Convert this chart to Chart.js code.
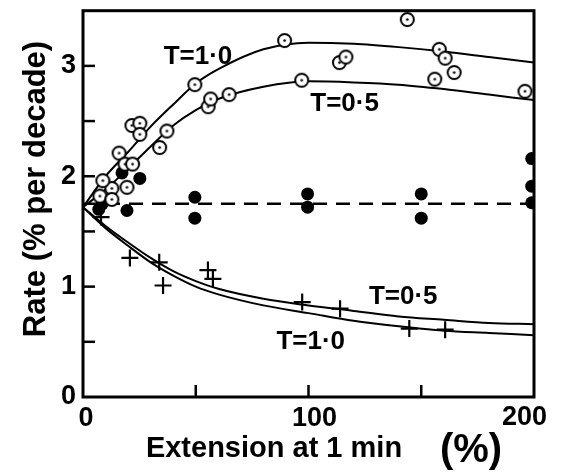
<!DOCTYPE html>
<html>
<head>
<meta charset="utf-8">
<script src="https://cdn.jsdelivr.net/npm/chart.js@4.4.1/dist/chart.umd.min.js"></script>
<style>
  body { margin: 0; background: #fff; }
</style>
</head>
<body>
<canvas id="myChart" width="563" height="476"></canvas>
<script>
// tick labels
const xTickLabels = [0, 100, 200];
const yTickLabels = [0, 1, 2, 3];
const xMinorTicks = [50, 100, 150];
const yMinorTicks = [0.5, 1, 1.5, 2, 2.5, 3];

// measured points (extension %, rate)
const openT1 = [
  [8.8, 1.96], [16, 2.21], [18.6, 2.11], [22, 2.11], [21.7, 2.46], [25.2, 2.48],
  [25.2, 2.38], [49.6, 2.83], [89.4, 3.23], [113.7, 3.03], [116.6, 3.08],
  [143.8, 3.42], [158, 3.15], [160.6, 3.07], [164.6, 2.94]
];
const openT05 = [
  [7.5, 1.82], [12.8, 1.89], [12.8, 1.79], [19.5, 1.9], [34, 2.26], [37.2, 2.41],
  [55.5, 2.63], [56.6, 2.7], [64.8, 2.74], [97, 2.87], [156, 2.88], [196, 2.77]
];
const filled = [
  [7, 1.7], [8.5, 1.75], [17.3, 2.03], [25.2, 1.98], [19.5, 1.69],
  [49.6, 1.81], [49.6, 1.62], [99.6, 1.84], [99.6, 1.72], [150, 1.84], [150, 1.62],
  [199, 2.16], [199, 1.91], [199, 1.76]
];
const crosses = [
  [8, 1.63], [20.8, 1.26], [33.8, 1.22], [35.5, 1.01], [55.4, 1.15], [57.6, 1.07],
  [97.2, 0.86], [114, 0.8], [144.7, 0.62], [160.6, 0.61]
];

// fitted curves
const curveX = [0, 10, 20, 30, 40, 50, 60, 80, 100, 120, 140, 160, 180, 200];
const riseT1 = [1.72, 2.0, 2.22, 2.45, 2.65, 2.84, 2.97, 3.15, 3.21, 3.2, 3.17, 3.13, 3.08, 3.03];
const riseT05 = [1.72, 1.88, 2.07, 2.27, 2.46, 2.6, 2.7, 2.81, 2.86, 2.85, 2.83, 2.79, 2.74, 2.69];
const fallT05 = [1.72, 1.55, 1.4, 1.26, 1.14, 1.05, 0.98, 0.89, 0.83, 0.78, 0.73, 0.7, 0.67, 0.66];
const fallT1 = [1.72, 1.53, 1.37, 1.22, 1.1, 1.0, 0.93, 0.83, 0.76, 0.69, 0.64, 0.6, 0.58, 0.56];
const meanLineX = [0, 200];
const meanLineY = [1.75, 1.75];

const curveLabels = [
  { text: "T=1·0", x: 51, y: 3.08 },
  { text: "T=0·5", x: 116, y: 2.66 },
  { text: "T=0·5", x: 142, y: 0.91 },
  { text: "T=1·0", x: 101, y: 0.5 }
];

const toPts = arr => arr.map(p => ({ x: p[0], y: p[1] }));
const toCurve = (xs, ys) => xs.map((v, i) => ({ x: v, y: ys[i] }));

function ringDot(r) {
  const c = document.createElement("canvas");
  const s = Math.ceil(2 * r + 4);
  c.width = c.height = s;
  const g = c.getContext("2d");
  g.beginPath();
  g.arc(s / 2, s / 2, r, 0, 2 * Math.PI);
  g.fillStyle = "#fff";
  g.fill();
  g.lineWidth = 2;
  g.strokeStyle = "#000";
  g.stroke();
  g.beginPath();
  g.arc(s / 2, s / 2, 1.3, 0, 2 * Math.PI);
  g.fillStyle = "#000";
  g.fill();
  return c;
}
const ring = ringDot(6.5);

const FONT = '"Liberation Sans", Arial, sans-serif';

const paperAxes = {
  id: "paperAxes",
  afterDraw(chart) {
    const { ctx, chartArea: a, scales: { x, y } } = chart;
    ctx.save();
    ctx.strokeStyle = "#000";
    ctx.fillStyle = "#000";
    ctx.lineWidth = 3;
    ctx.strokeRect(a.left, a.top, a.right - a.left, a.bottom - a.top);

    ctx.lineWidth = 2.5;
    yMinorTicks.forEach(v => {
      const py = y.getPixelForValue(v);
      ctx.beginPath();
      ctx.moveTo(a.left, py);
      ctx.lineTo(a.left + 12, py);
      ctx.stroke();
    });
    xMinorTicks.forEach(v => {
      const px = x.getPixelForValue(v);
      ctx.beginPath();
      ctx.moveTo(px, a.bottom);
      ctx.lineTo(px, a.bottom - 12);
      ctx.stroke();
    });

    ctx.font = "bold 27px " + FONT;
    ctx.textBaseline = "middle";
    ctx.textAlign = "right";
    yTickLabels.forEach(v => {
      ctx.fillText(String(v), a.left - 7, y.getPixelForValue(v));
    });
    xTickLabels.forEach((v, i) => {
      const px = x.getPixelForValue(v);
      if (i === xTickLabels.length - 1) {
        ctx.textAlign = "right";
        ctx.fillText(String(v), px + 13, a.bottom + 21);
      } else {
        ctx.textAlign = "center";
        ctx.fillText(String(v), px + (i === 0 ? 3 : 6), a.bottom + 22);
      }
    });

    // curve annotations
    ctx.font = "bold 26px " + FONT;
    ctx.textAlign = "center";
    curveLabels.forEach(l => {
      ctx.fillText(l.text, x.getPixelForValue(l.x), y.getPixelForValue(l.y));
    });

    // axis titles
    ctx.font = "bold 29px " + FONT;
    ctx.textAlign = "center";
    ctx.fillText("Extension at 1 min", 274, 449);
    ctx.font = "bold 40px " + FONT;
    ctx.fillText("(%)", 471, 451);

    ctx.save();
    ctx.translate(36, 189);
    ctx.rotate(-Math.PI / 2);
    ctx.font = "bold 31px " + FONT;
    ctx.fillText("Rate (% per decade)", 0, 0);
    ctx.restore();

    ctx.restore();
  }
};

const curveStyle = {
  type: "line",
  showLine: true,
  borderColor: "#000",
  borderWidth: 2,
  pointRadius: 0,
  cubicInterpolationMode: "monotone",
  fill: false
};

new Chart(document.getElementById("myChart"), {
  type: "scatter",
  data: {
    datasets: [
      { label: "open T=1.0", data: toPts(openT1), pointStyle: ring, order: 1 },
      { label: "open T=0.5", data: toPts(openT05), pointStyle: ring, order: 1 },
      {
        label: "filled", data: toPts(filled), pointStyle: "circle", pointRadius: 6.5,
        backgroundColor: "#000", borderColor: "#000", borderWidth: 0, order: 2, clip: 0
      },
      {
        label: "crosses", data: toPts(crosses), pointStyle: "cross", pointRadius: 8.5,
        borderColor: "#000", borderWidth: 2.2, order: 2
      },
      Object.assign({ label: "rise T=1.0", data: toCurve(curveX, riseT1), order: 3 }, curveStyle),
      Object.assign({ label: "rise T=0.5", data: toCurve(curveX, riseT05), order: 3 }, curveStyle),
      Object.assign({ label: "fall T=0.5", data: toCurve(curveX, fallT05), order: 3 }, curveStyle),
      Object.assign({ label: "fall T=1.0", data: toCurve(curveX, fallT1), order: 3 }, curveStyle),
      Object.assign({ label: "mean", data: toCurve(meanLineX, meanLineY), order: 3 }, curveStyle,
        { borderDash: [14, 9], borderWidth: 2.5, cubicInterpolationMode: "default", tension: 0 })
    ]
  },
  options: {
    responsive: false,
    animation: false,
    layout: { padding: { left: 83, right: 29, top: 9, bottom: 79 } },
    plugins: { legend: { display: false }, tooltip: { enabled: false } },
    scales: {
      x: { type: "linear", min: 0, max: 200, display: false },
      y: { type: "linear", min: 0, max: 3.5, display: false }
    }
  },
  plugins: [paperAxes]
});
</script>
</body>
</html>
